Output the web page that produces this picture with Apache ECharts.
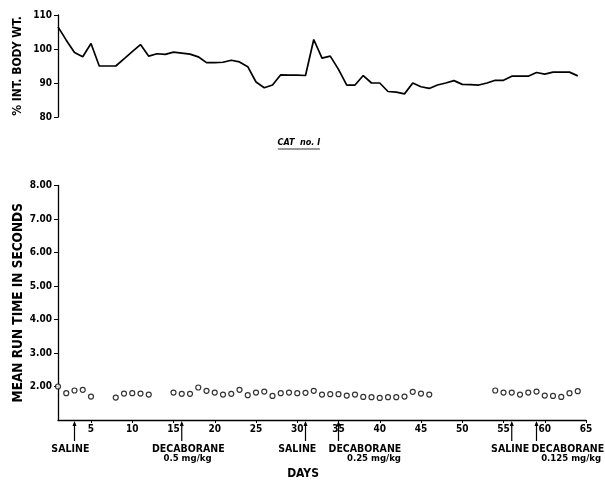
<!DOCTYPE html>
<html><head><meta charset="utf-8">
<script src="https://cdn.jsdelivr.net/npm/echarts@6/dist/echarts.min.js"></script>
<style>html,body{margin:0;padding:0;background:#fff}#c{width:605px;height:481px}</style>
</head><body><div id="c"></div>
<script>
// ---- data ----
const weightDays = [1,2,3,4,5,6,7,8,9,10,11,12,13,14,15,16,17,18,19,20,21,22,23,24,25,26,27,28,29,30,31,32,
  33,34,35,36,37,38,39,40,41,42,43,44,45,46,47,48,49,50,51,52,53,54,55,56,57,58,59,60,61,62,63,64];
const weightPct = [106.5,102.6,99.0,97.7,101.6,95.0,95.0,95.0,97.1,99.2,101.3,97.9,98.6,98.4,99.1,98.8,
  98.5,97.7,96.0,96.0,96.1,96.7,96.2,94.8,90.3,88.6,89.4,92.4,92.3,92.3,92.2,102.8,
  97.3,97.9,94.0,89.4,89.4,92.2,90.0,90.0,87.5,87.3,86.8,90.0,88.9,88.4,89.4,90.0,
  90.7,89.6,89.5,89.4,90.0,90.8,90.8,92.0,92.0,92.0,93.1,92.6,93.2,93.2,93.2,92.1];
const runDays = [1,2,3,4,5,8,9,10,11,12,15,16,17,18,19,20,21,22,23,24,25,26,27,28,29,30,31,32,
  33,34,35,36,37,38,39,40,41,42,43,44,45,46,54,55,56,57,58,59,60,61,62,63,64];
const runTimes = [2.00,1.80,1.88,1.90,1.70,1.67,1.79,1.80,1.79,1.76,1.82,1.78,1.78,1.97,1.87,1.82,1.76,1.78,1.90,1.74,1.82,1.85,1.72,1.80,1.82,1.80,1.81,1.87,
  1.76,1.77,1.77,1.73,1.76,1.69,1.68,1.66,1.68,1.68,1.70,1.84,1.79,1.76,1.88,1.82,1.82,1.76,1.82,1.85,1.73,1.72,1.69,1.80,1.86];
const dayTicks = [5,10,15,20,25,30,35,40,45,50,55,60,65];
const runTicks = [2,3,4,5,6,7,8];
const arrowDays = [3,16,31,35,56,59];
const noteTexts = ['SALINE','DECABORANE','0.5 mg/kg','SALINE','DECABORANE','0.25 mg/kg','SALINE','DECABORANE','0.125 mg/kg'];
const noteDays  = [2.5,16.8,16.7,30.0,38.2,39.3,55.8,62.8,63.2];
const noteRows  = [0,0,1,0,0,1,0,0,1];

// ---- chart ----
const FONT = "'DejaVu Sans Condensed','DejaVu Sans',sans-serif";
const chart = echarts.init(document.getElementById('c'));
const axisCommon = {
  axisLine:{show:true,lineStyle:{color:'#000',width:1.3}},
  axisTick:{show:true,length:4,lineStyle:{color:'#000',width:1}},
  splitLine:{show:false},
  axisLabel:{color:'#000',fontFamily:FONT,fontWeight:'bold',fontSize:10,margin:6}
};
chart.setOption({
  animation:false,
  backgroundColor:'#fff',
  grid:[
    {left:58,right:19,top:15,height:102,outerBoundsMode:'none',containLabel:false},
    {left:58,right:19,top:185.5,height:234.5,outerBoundsMode:'none',containLabel:false}
  ],
  xAxis:[
    {gridIndex:0,type:'value',min:1,max:65,show:false},
    Object.assign({},axisCommon,{gridIndex:1,type:'value',min:1,max:65,
      axisTick:{show:true,length:3,customValues:dayTicks,lineStyle:{color:'#000'}},
      axisLabel:Object.assign({},axisCommon.axisLabel,{customValues:dayTicks,margin:4})})
  ],
  yAxis:[
    Object.assign({},axisCommon,{gridIndex:0,type:'value',min:80,max:110,interval:10,
      name:'% INT. BODY WT.',nameLocation:'middle',nameGap:34,nameRotate:90,nameMoveOverlap:false,
      nameTextStyle:{color:'#000',fontFamily:FONT,fontWeight:'bold',fontSize:12}}),
    Object.assign({},axisCommon,{gridIndex:1,type:'value',min:1,max:8,interval:1,
      name:'MEAN RUN TIME IN SECONDS',nameLocation:'middle',nameGap:33,nameRotate:90,nameMoveOverlap:false,
      nameTextStyle:{color:'#000',fontFamily:FONT,fontWeight:'bold',fontSize:13.5}},
      {axisTick:{show:true,length:4,customValues:runTicks,lineStyle:{color:'#000',width:1}},
      axisLabel:Object.assign({},axisCommon.axisLabel,{customValues:runTicks,formatter:v=>Number(v).toFixed(2)})})
  ],
  series:[
    {type:'line',xAxisIndex:0,yAxisIndex:0,data:weightDays.map((d,i)=>[d,weightPct[i]]),
      symbol:'none',lineStyle:{color:'#000',width:1.7}},
    {type:'scatter',xAxisIndex:1,yAxisIndex:1,data:runDays.map((d,i)=>[d,runTimes[i]]),
      symbol:'circle',symbolSize:5,itemStyle:{color:'#fff',borderColor:'#000',borderWidth:1.2}}
  ]
});

// annotations placed through the axis scales
const px = (d,v)=>chart.convertToPixel({gridIndex:1},[d,v]);
const g = [];
const base = px(1,1)[1];
arrowDays.forEach(d=>{
  const x = px(d,1)[0];
  g.push({type:'line',shape:{x1:x,y1:base+21,x2:x,y2:base+3},style:{stroke:'#000',lineWidth:1.2}});
  g.push({type:'polygon',shape:{points:[[x,base+1],[x-2,base+6],[x+2,base+6]]},style:{fill:'#000'}});
});
noteTexts.forEach((t,i)=>{
  const x = px(noteDays[i],1)[0];
  g.push({type:'text',x:x,y:base+24+noteRows[i]*10,style:{text:t,fill:'#000',
    font:(noteRows[i]?'bold 9.5px ':'bold 10.5px ')+FONT,textAlign:'center',textVerticalAlign:'top'}});
});
const dx = px(30.7,1)[0];
g.push({type:'text',x:dx,y:base+48,style:{text:'DAYS',fill:'#000',font:'bold 12px '+FONT,textAlign:'center',textVerticalAlign:'top'}});
const cat = chart.convertToPixel({gridIndex:0},[30.2,80]);
g.push({type:'text',x:cat[0],y:cat[1]+26,style:{text:'CAT  no. I',fill:'#000',font:'italic bold 9px '+FONT,textAlign:'center',textVerticalAlign:'middle'}});
g.push({type:'line',shape:{x1:cat[0]-21,y1:cat[1]+32,x2:cat[0]+21,y2:cat[1]+32},style:{stroke:'#000',lineWidth:0.8}});
chart.setOption({graphic:g});
</script>
</body></html>
